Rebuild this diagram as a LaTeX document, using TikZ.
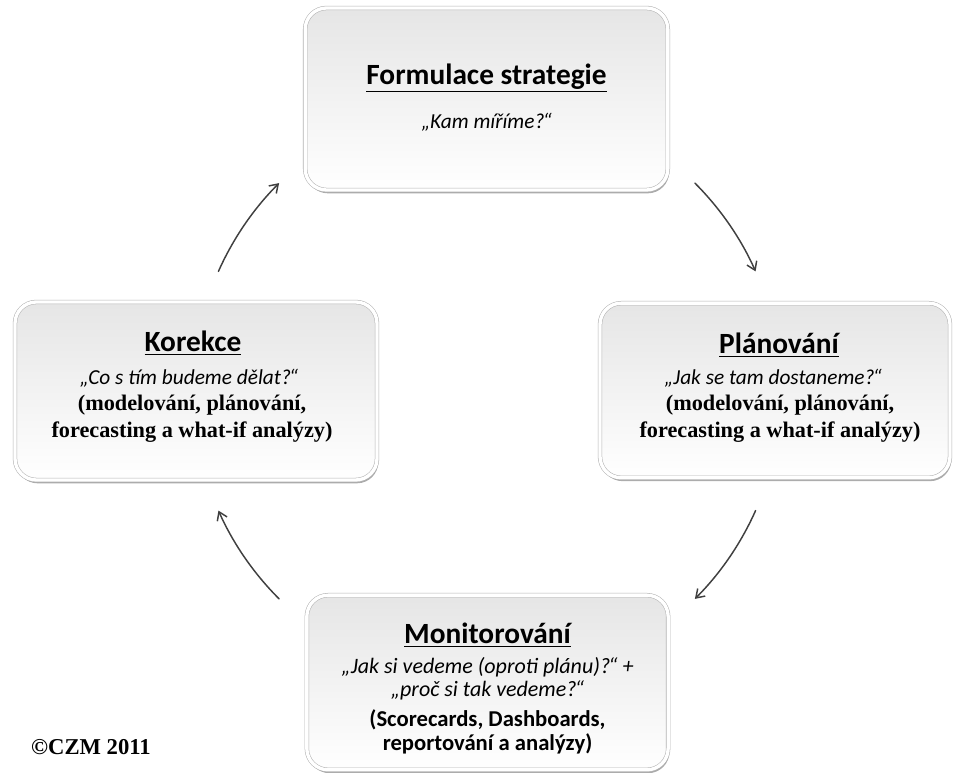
\documentclass[tikz,border=0pt]{standalone}
\usepackage{fontspec}
\setmainfont{Carlito}
\newfontfamily\timesfont{Liberation Serif}
\usetikzlibrary{arrows.meta,shadows}
\newcommand{\cq}{\kern-0.08em“}

\begin{document}
\begin{tikzpicture}[x=0.75pt, y=0.75pt, line cap=round, line join=round,
    >={Straight Barb[length=6pt,width=8pt]}]
  \tikzset{
    box/.style={rounded corners=16pt, draw=black!30, double=white,
      double distance=2.5pt, top color=black!10, bottom color=white,
      drop shadow={shadow xshift=1pt, shadow yshift=-2.5pt,
        fill=black!55, opacity=0.6}, inner sep=0pt},
    ttl/.style={font=\fontsize{22}{26}\selectfont\bfseries, inner sep=0pt},
    qst/.style={font=\fontsize{16}{17}\selectfont\itshape, align=center,
      inner sep=0pt},
    note/.style={font=\fontsize{16.7}{20.5}\selectfont\timesfont\bfseries,
      align=center, inner sep=0pt},
    cyc/.style={->, line width=1.1pt, black!75}
  }
  \useasboundingbox (0,0) rectangle (953,773);

  %--- Boxes ---------------------------------------------------------------
  \node[box, minimum width=272pt, minimum height=136.5pt] (strat) at (486.5,674) {};
  \node[box, minimum width=262.5pt, minimum height=131pt] (plan) at (775,382.5) {};
  \node[box, minimum width=271.5pt, minimum height=133.5pt] (kor) at (196,382) {};
  \node[box, minimum width=271pt, minimum height=131pt] (mon) at (487.5,90.5) {};

  %--- Formulace strategie -------------------------------------------------
  \node[ttl] (strat-t) at (486.5,695) {\underline{Formulace strategie}};
  \node[qst] (strat-q) at (486.5,651) {„Kam míříme?\cq};

  %--- Planovani -----------------------------------------------------------
  \node[ttl] (plan-t) at (779,428) {\underline{Plánování}};
  \node[qst] (plan-q) at (773,395) {„Jak se tam dostaneme?\cq};
  \node[note] (plan-n) at (780,354.5) {(modelování, plánování,\\forecasting a what-if analýzy)};

  %--- Korekce -------------------------------------------------------------
  \node[ttl] (kor-t) at (193,430) {\underline{Korekce}};
  \node[qst] (kor-q) at (189,395) {„Co s tím budeme dělat?\cq};
  \node[note] (kor-n) at (192,354.5) {(modelování, plánování,\\forecasting a what-if analýzy)};

  %--- Monitorovani --------------------------------------------------------
  \node[ttl] (mon-t) at (487.5,138) {\underline{Monitorování}};
  \node[qst, font=\fontsize{16.5}{17.5}\selectfont\itshape] (mon-q) at (487.5,94.5)
        {„Jak si vedeme (oproti plánu)?\cq{} +\\„proč si tak vedeme?\cq};
  \node[note, font=\fontsize{17}{18}\selectfont\bfseries] (mon-n) at (487.5,41.5)
        {(Scorecards, Dashboards,\\reportování a analýzy)};

  %--- Cycle arrows --------------------------------------------------------
  \coordinate (hub) at (487,382);
  \foreach \a/\b in {45/24, -24/-45, -135/-156, 156/135}
    \draw[cyc] (hub) ++(\a:220.5pt) arc[start angle=\a, end angle=\b, radius=220.5pt];

  %--- Copyright -----------------------------------------------------------
  \node[font=\fontsize{17}{19}\selectfont\timesfont\bfseries, inner sep=0pt]
        (copy) at (91,26) {©CZM 2011};
\end{tikzpicture}
\end{document}
